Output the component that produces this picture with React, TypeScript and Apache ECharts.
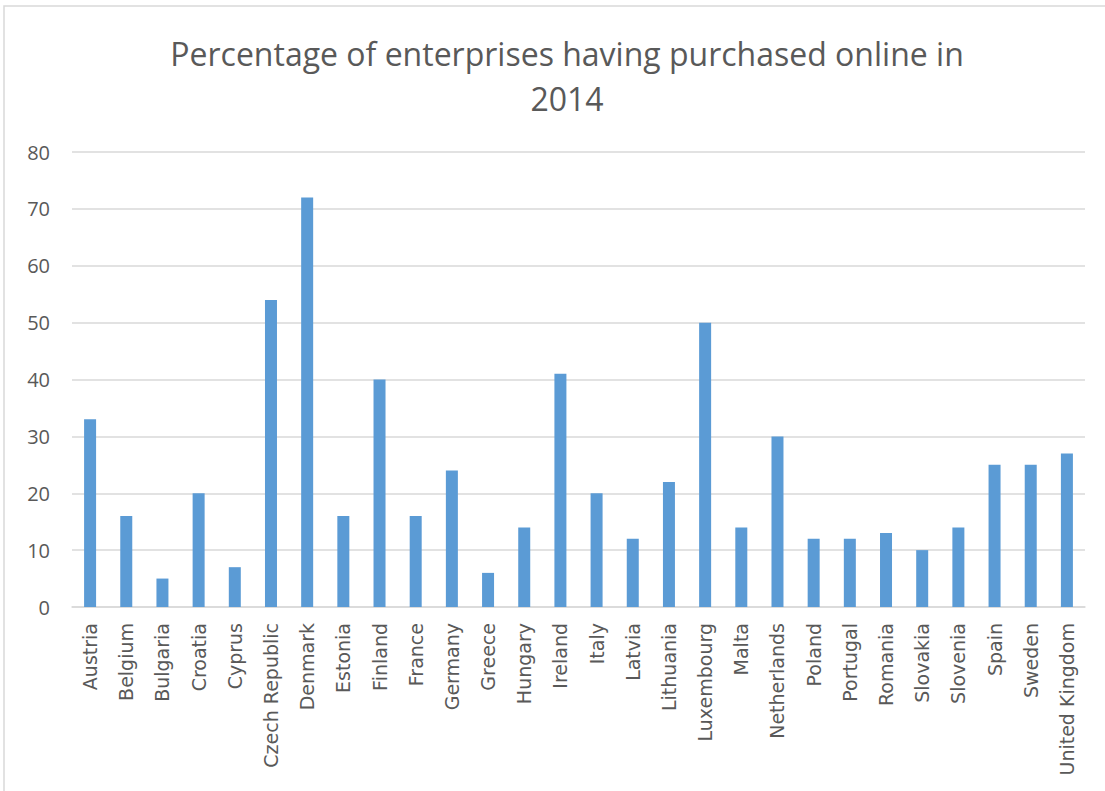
import React, { useEffect, useRef } from "react";
import * as echarts from "echarts";

const titleText = "Percentage of enterprises having purchased online in\n2014";
const countries = [
  "Austria", "Belgium", "Bulgaria", "Croatia", "Cyprus", "Czech Republic", "Denmark",
  "Estonia", "Finland", "France", "Germany", "Greece", "Hungary", "Ireland", "Italy",
  "Latvia", "Lithuania", "Luxembourg", "Malta", "Netherlands", "Poland", "Portugal",
  "Romania", "Slovakia", "Slovenia", "Spain", "Sweden", "United Kingdom",
];
const values = [
  33, 16, 5, 20, 7, 54, 72, 16, 40, 16, 24, 6, 14, 41, 20, 12, 22, 50, 14, 30, 12, 12,
  13, 10, 14, 25, 25, 27,
];
const yMin = 0;
const yMax = 80;
const yStep = 10;

export default function App() {
  const ref = useRef<HTMLDivElement>(null);
  useEffect(() => {
    if (!ref.current) return;
    const chart = echarts.init(ref.current, null, { renderer: "svg" });
    chart.setOption({
      animation: false,
      backgroundColor: "#ffffff",
      title: {
        text: titleText,
        left: 562,
        textAlign: "center",
        top: 26,
        textStyle: {
          fontFamily: "Open Sans",
          fontSize: 32,
          fontWeight: "normal",
          color: "#595959",
          lineHeight: 45,
        },
      },
      graphic: [
        {
          type: "rect",
          shape: { x: 4, y: 6, width: 1200, height: 900 },
          style: { fill: "none", stroke: "#d9d9d9", lineWidth: 1.5 },
          silent: true,
        },
      ],
      grid: { left: 72, right: 20, top: 152, bottom: 184, containLabel: false },
      xAxis: {
        type: "category",
        data: countries,
        axisTick: { show: false },
        axisLine: { show: true, lineStyle: { color: "#d9d9d9", width: 1.5 } },
        axisLabel: {
          rotate: 90,
          interval: 0,
          margin: 16,
          fontFamily: "'DejaVu Sans', sans-serif",
          fontSize: 19,
          color: "#595959",
        },
      },
      yAxis: {
        type: "value",
        min: yMin,
        max: yMax,
        interval: yStep,
        axisLine: { show: false },
        axisTick: { show: false },
        splitLine: { lineStyle: { color: "#d9d9d9", width: 1.5 } },
        axisLabel: {
          margin: 22,
          fontFamily: "Open Sans",
          fontSize: 20,
          color: "#595959",
        },
      },
      series: [
        {
          type: "bar",
          data: values,
          barWidth: 12,
          itemStyle: { color: "#5B9BD5" },
        },
      ],
    });
    return () => chart.dispose();
  }, []);
  return (
    <div
      ref={ref}
      style={{ position: "absolute", left: 0, top: 0, width: 1105, height: 791 }}
    />
  );
}
